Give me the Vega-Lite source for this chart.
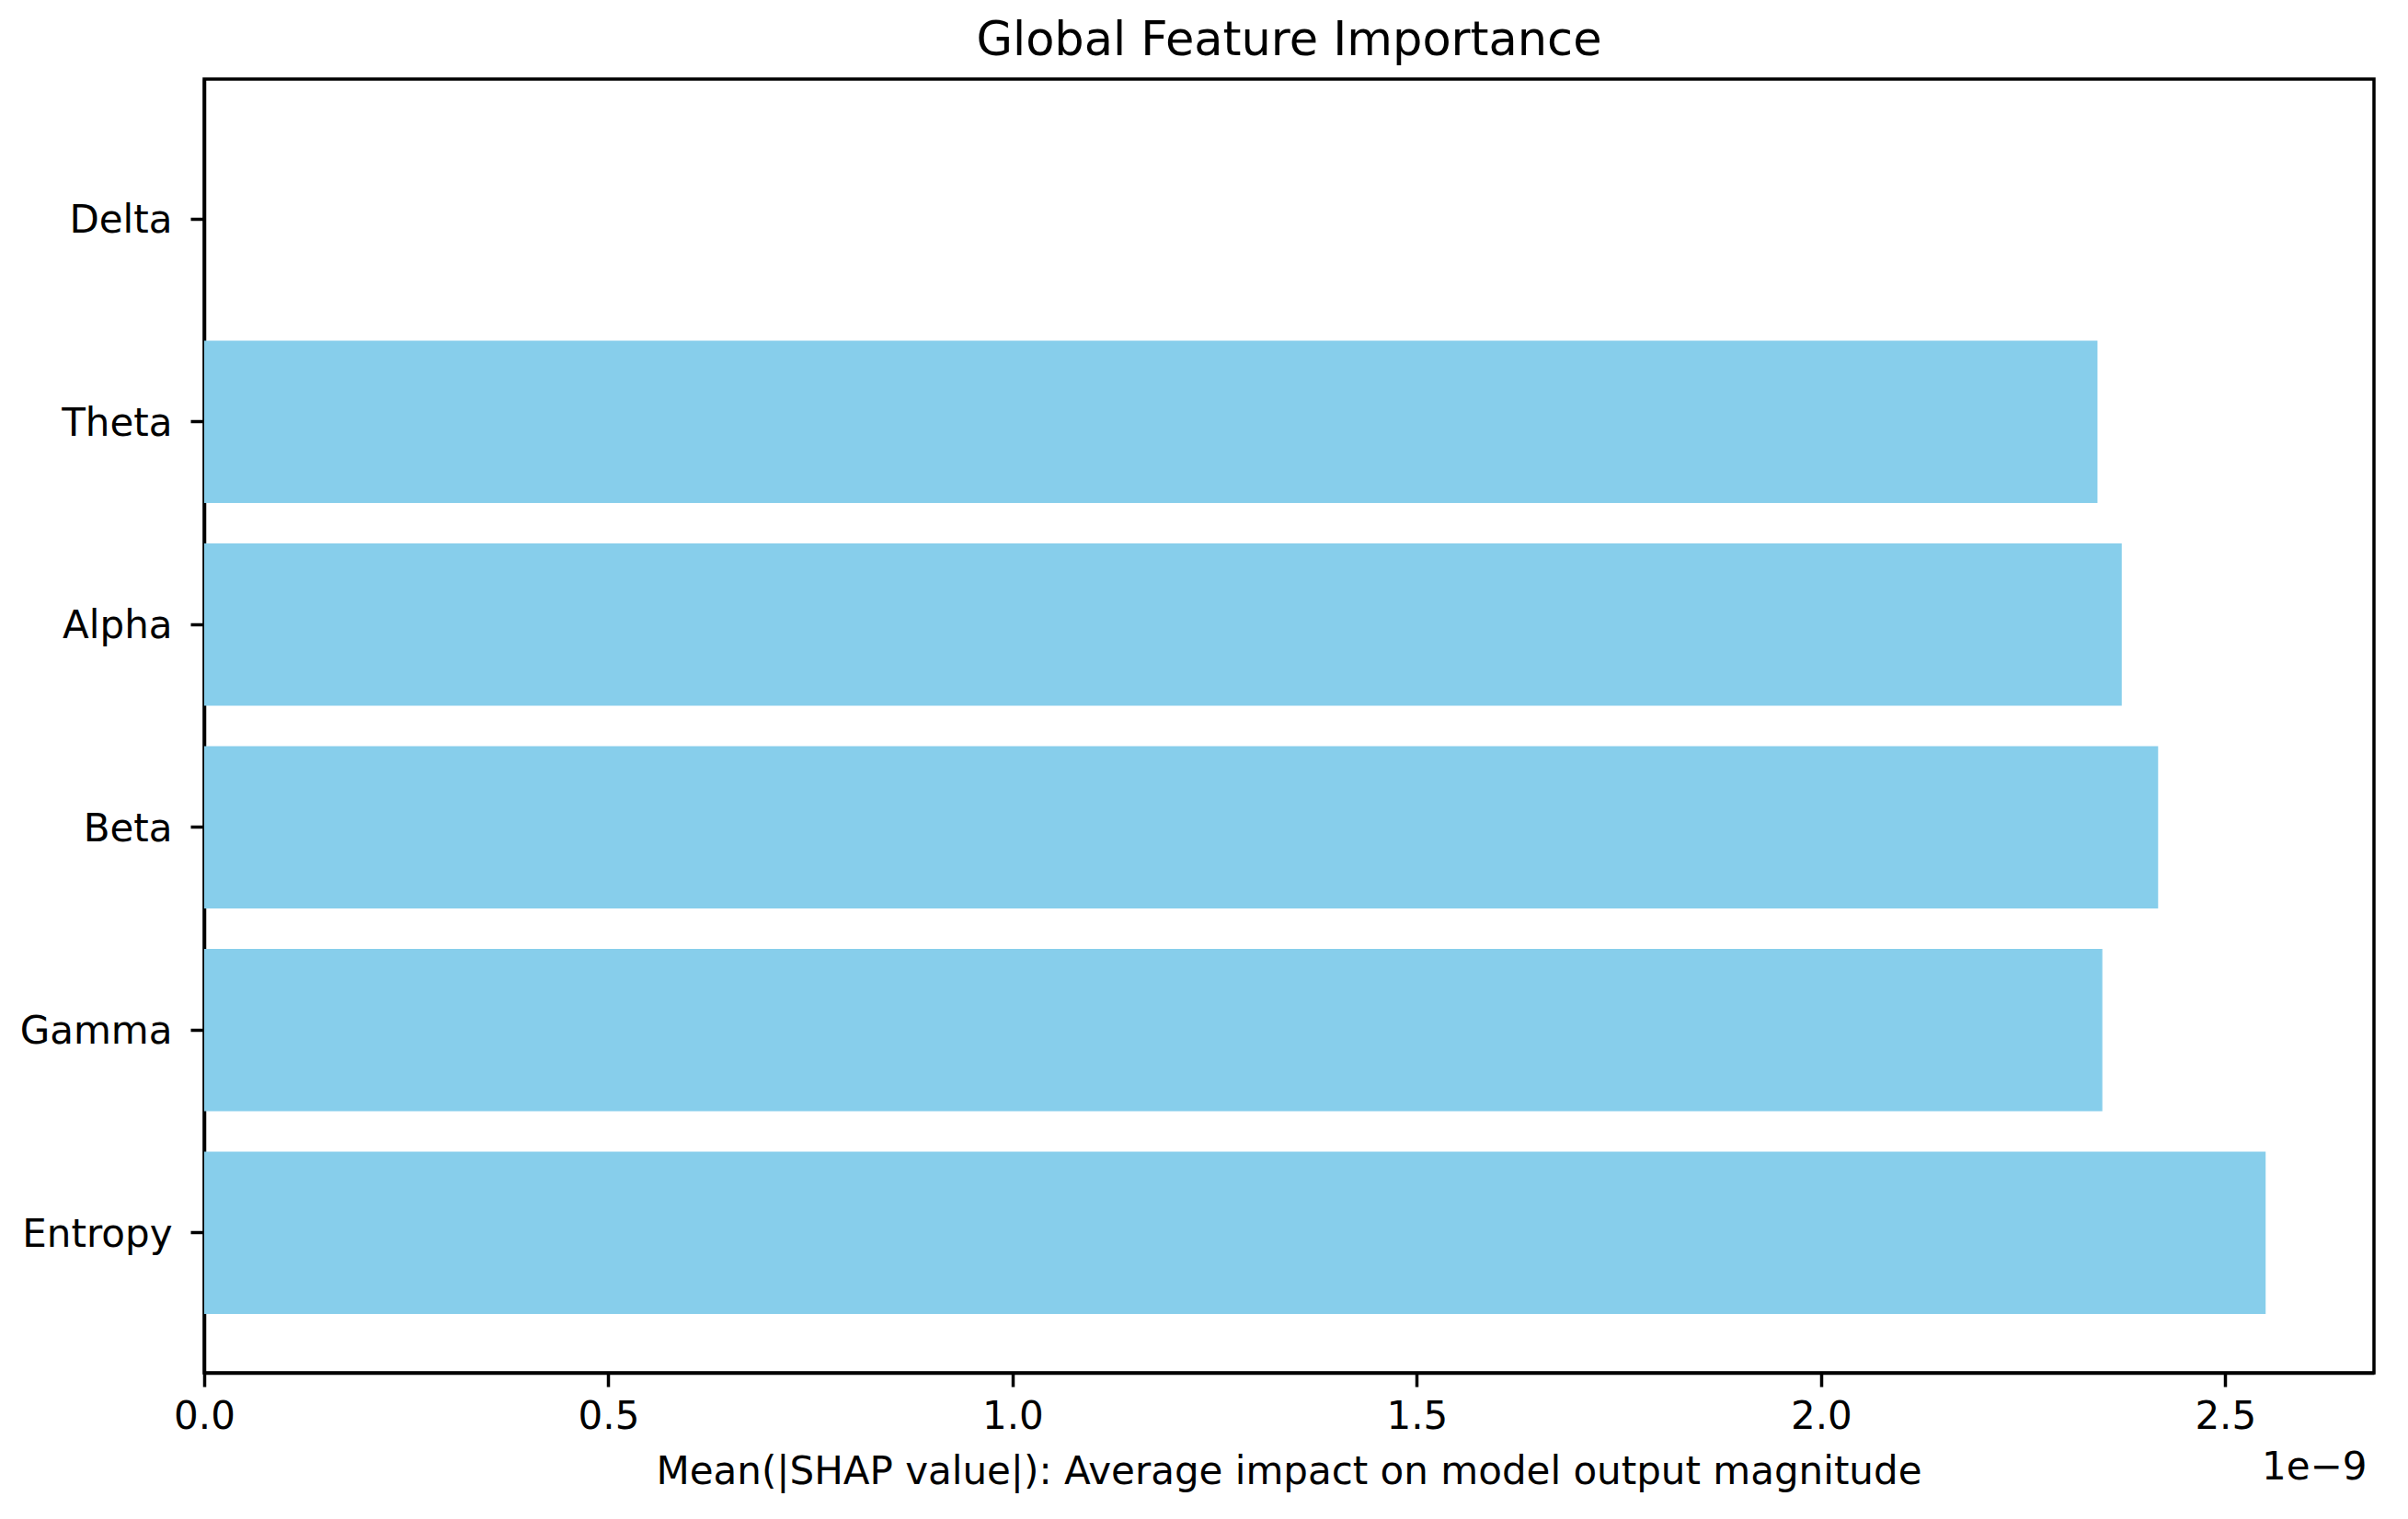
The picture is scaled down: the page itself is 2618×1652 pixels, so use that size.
{
  "$schema": "https://vega.github.io/schema/vega-lite/v6.json",
  "autosize": "none",
  "width": 2359,
  "height": 1407,
  "padding": {"left": 222, "top": 86, "right": 37, "bottom": 159},
  "background": "white",
  "title": {
    "text": "Global Feature Importance",
    "font": "DejaVu Sans",
    "fontSize": 51,
    "fontWeight": "normal",
    "color": "black",
    "anchor": "middle",
    "frame": "group",
    "offset": 15
  },
  "data": {
    "values": [
      {"feature": "Delta", "importance": 0},
      {"feature": "Theta", "importance": 2.342e-9},
      {"feature": "Alpha", "importance": 2.372e-9},
      {"feature": "Beta", "importance": 2.417e-9},
      {"feature": "Gamma", "importance": 2.348e-9},
      {"feature": "Entropy", "importance": 2.55e-9}
    ]
  },
  "mark": {"type": "bar", "color": "#87CEEB"},
  "encoding": {
    "y": {
      "field": "feature",
      "type": "nominal",
      "sort": ["Delta", "Theta", "Alpha", "Beta", "Gamma", "Entropy"],
      "scale": {"paddingInner": 0.2, "paddingOuter": 0.29},
      "axis": {
        "title": "1e\u22129",
        "titleAngle": 0,
        "titleX": 2351,
        "titleY": 1522,
        "titleAlign": "right",
        "titleBaseline": "alphabetic",
        "titleFont": "DejaVu Sans",
        "titleFontSize": 42,
        "titleFontWeight": "normal",
        "titleColor": "black",
        "labelFont": "DejaVu Sans",
        "labelFontSize": 42,
        "labelColor": "black",
        "labelPadding": 20,
        "labelOffset": 2,
        "tickSize": 15,
        "tickWidth": 3.5,
        "tickColor": "black",
        "domainColor": "black",
        "domainWidth": 3.5,
        "grid": false
      }
    },
    "x": {
      "field": "importance",
      "type": "quantitative",
      "scale": {"domain": [0, 2.684e-9], "nice": false, "zero": true},
      "axis": {
        "title": "Mean(|SHAP value|): Average impact on model output magnitude",
        "titleX": 1179,
        "titleY": 120,
        "titleBaseline": "alphabetic",
        "titleFont": "DejaVu Sans",
        "titleFontSize": 42,
        "titleFontWeight": "normal",
        "titleColor": "black",
        "values": [0, 0.5e-9, 1.0e-9, 1.5e-9, 2.0e-9, 2.5e-9],
        "labelExpr": "format(datum.value * 1e9, '.1f')",
        "labelFont": "DejaVu Sans",
        "labelFontSize": 42,
        "labelColor": "black",
        "labelPadding": 12,
        "labelFlush": false,
        "tickSize": 15,
        "tickWidth": 3.5,
        "tickColor": "black",
        "domainColor": "black",
        "domainWidth": 3.5,
        "grid": false
      }
    }
  },
  "config": {
    "view": {"stroke": "black", "strokeWidth": 3.5}
  }
}
